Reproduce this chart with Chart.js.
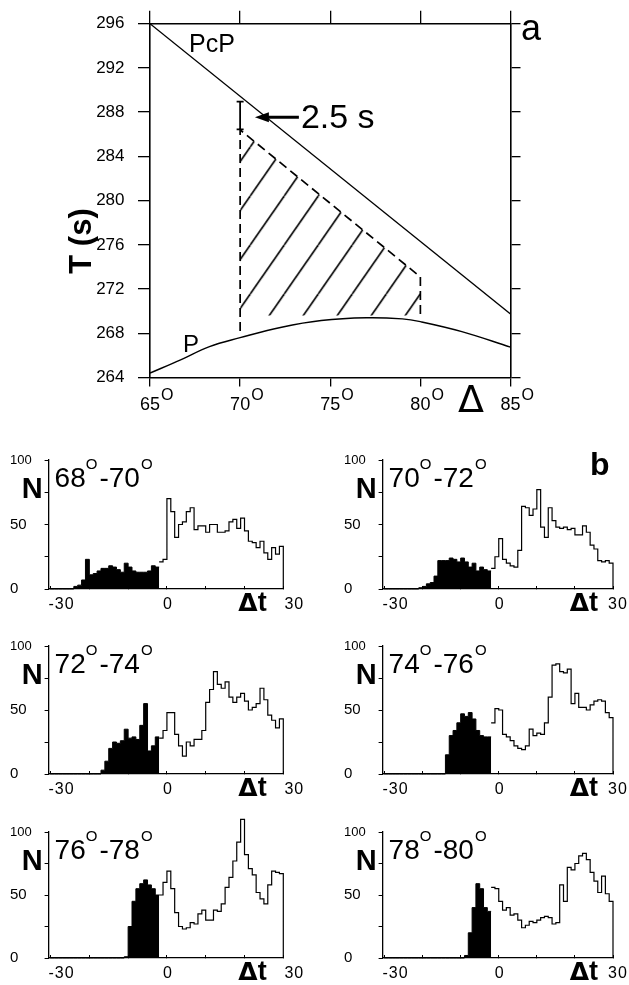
<!DOCTYPE html>
<html><head><meta charset="utf-8">
<script src="https://cdn.jsdelivr.net/npm/chart.js@4.4.1/dist/chart.umd.min.js"></script>
<style>
html,body{margin:0;padding:0;background:#fff;}
#wrap{position:relative;width:629px;height:985px;overflow:hidden;background:#fff;}
#wrap canvas{position:absolute;left:0;top:0;}
</style></head><body>
<div id="wrap">
<canvas id="ca" width="629" height="985"></canvas>
<canvas id="h1" width="629" height="985"></canvas>
<canvas id="h2" width="629" height="985"></canvas>
<canvas id="h3" width="629" height="985"></canvas>
<canvas id="h4" width="629" height="985"></canvas>
<canvas id="h5" width="629" height="985"></canvas>
<canvas id="h6" width="629" height="985"></canvas>
</div>
<script>
// ---------- Panel a data ----------
const deltaTicks = [65, 70, 75, 80, 85];
const deltaTickLabels = ['65', '70', '75', '80', '85'];
const pcpDelta = [65, 85];
const pcpTime = [296, 269.75];
const pDelta = [65, 66.7, 68.3, 70, 72.3, 74.5, 77, 79, 80, 82.3, 85];
const pTime = [264.4, 265.6, 266.8, 267.6, 268.55, 269.15, 269.4, 269.3, 269.05, 268.15, 266.75];
const hatchDelta = [70, 80];
const hatchTop = [286.4, 273.1];
const hatchBase = 269.6;
const dashDelta = [70, 70, 80, 80];
const dashTime = [268.2, 286.4, 273.1, 269.4];
const barDelta = [70, 70];
const barTime = [288.95, 286.45];
const arrowDelta = [73.26, 70.82];
const arrowTime = [287.53, 287.53];

// ---------- Panel b data (1 s bins, start of bin) ----------
const dtBinStart = [-30,-29,-28,-27,-26,-25,-24,-23,-22,-21,-20,-19,-18,-17,-16,-15,-14,-13,-12,-11,-10,-9,-8,-7,-6,-5,-4,-3,-2,-1,0,1,2,3,4,5,6,7,8,9,10,11,12,13,14,15,16,17,18,19,20,21,22,23,24,25,26,27,28,29];
const dtTickValues = [-30, 0, 30];
const dtTickLabels = ['-30', '0', '30'];
const filledUntil = -2;
const counts68_70 = [0,0,0,0,0,0,
  2,3,7,23,11,12,14,16,16,18,17,15,13,20,17,14,13,13,13,14,18,17,
  21,23,70,60,40,50,52,60,63,46,49,49,44,50,50,44,44,45,52,54,47,55,45,37,36,32,37,28,23,32,27,33];
const counts70_72 = [0,0,0,0,0,0,0,0,0,
  1,2,4,5,10,22,22,22,24,23,21,24,21,17,20,14,17,15,14,
  16,25,39,23,20,18,17,30,64,63,57,62,77,48,40,63,53,48,47,48,46,47,42,42,49,44,34,31,22,21,22,20];
const counts72_74 = [0,0,0,0,0,0,0,0,0,0,0,0,0,
  3,10,20,25,24,26,35,28,29,27,38,55,18,22,29,
  28,34,48,48,31,22,14,25,22,27,27,34,56,66,80,70,67,72,60,56,60,63,57,50,52,55,67,58,46,42,36,43];
const counts74_76 = [0,0,0,0,0,0,0,0,0,0,0,0,0,0,0,0,
  15,30,34,40,47,45,48,43,34,30,29,29,
  40,51,50,31,29,26,22,20,19,22,35,30,32,31,40,60,85,86,80,79,82,55,63,52,52,50,54,57,58,57,48,44];
const counts76_78 = [0,0,0,0,0,0,0,0,0,0,0,0,0,0,0,0,0,0,0,
  1,25,45,55,59,62,58,55,50,
  50,60,69,55,36,25,23,24,28,27,35,38,30,30,38,37,43,56,64,77,92,110,82,71,66,52,47,43,58,69,68,67];
const counts78_80 = [0,0,0,0,0,0,0,0,0,0,0,0,0,0,0,0,0,0,0,0,0,
  2,20,40,59,55,40,37,
  56,55,45,38,40,34,35,30,24,26,29,28,30,32,33,32,27,28,58,45,72,70,75,81,83,78,68,61,52,65,51,45];
const rangeFrom = ['68', '70', '72', '74', '76', '78'];
const rangeTo = ['70', '72', '74', '76', '78', '80'];

// ---------- common ----------
const FONT = "'Liberation Sans', Arial, sans-serif";
const DFONT = "'DejaVu Sans', sans-serif";
Chart.defaults.font.family = FONT;
Chart.defaults.color = '#000';
const W = 629, H = 985;

function pts(xs, ys) { return xs.map((x, i) => ({x: x, y: ys[i]})); }

function makeHatch() {
  const tw = 34, th = 49;
  const c = document.createElement('canvas'); c.width = tw; c.height = th;
  const g = c.getContext('2d');
  g.strokeStyle = '#000'; g.lineWidth = 1.6;
  for (const k of [-1, 0, 1]) { g.beginPath(); g.moveTo(k * tw, th); g.lineTo(k * tw + tw, 0); g.stroke(); }
  const p = g.createPattern(c, 'repeat');
  p.setTransform(new DOMMatrix().translateSelf(12.2, 0));
  return p;
}

// ---------- Panel a ----------
const A = {left: 150, right: 510.5, top: 19, bottom: 377.5};
const panelAText = {
  id: 'panelAText',
  afterDraw(chart) {
    const ctx = chart.ctx, x = chart.scales.x, y = chart.scales.y;
    ctx.save();
    ctx.fillStyle = '#000'; ctx.strokeStyle = '#000';
    ctx.textBaseline = 'alphabetic';
    deltaTicks.forEach((v, i) => {
      const px = x.getPixelForValue(v);
      ctx.font = '18px ' + FONT; ctx.textAlign = 'center';
      ctx.fillText(deltaTickLabels[i], px, 410);
      const w = ctx.measureText(deltaTickLabels[i]).width;
      ctx.font = '16px ' + FONT; ctx.textAlign = 'left';
      ctx.fillText('O', px + w / 2 + 1, 400);
    });
    ctx.font = '38px ' + DFONT; ctx.textAlign = 'center';
    ctx.fillText('Δ', 471, 412);
    // y title
    ctx.save();
    ctx.translate(82, 241); ctx.rotate(-Math.PI / 2);
    ctx.font = 'bold 31px ' + FONT; ctx.textAlign = 'center'; ctx.textBaseline = 'middle';
    ctx.fillText('T (s)', 0, 0);
    ctx.restore();
    ctx.textAlign = 'left';
    ctx.font = '25px ' + FONT; ctx.fillText('PcP', 189, 52);
    ctx.font = '24px ' + FONT; ctx.fillText('P', 183, 352);
    ctx.font = '36px ' + FONT; ctx.fillText('a', 521, 40);
    // arrow + label
    const ax1 = x.getPixelForValue(arrowDelta[0]), ax2 = x.getPixelForValue(arrowDelta[1]);
    const ay = y.getPixelForValue(arrowTime[0]);
    ctx.lineWidth = 3;
    ctx.beginPath(); ctx.moveTo(ax1, ay); ctx.lineTo(ax2 + 10, ay); ctx.stroke();
    ctx.beginPath(); ctx.moveTo(ax2, ay); ctx.lineTo(ax2 + 14, ay - 5); ctx.lineTo(ax2 + 14, ay + 5); ctx.closePath(); ctx.fill();
    ctx.font = '34px ' + FONT;
    ctx.fillText('2.5 s', ax1 + 2, ay + 11);
    ctx.restore();
  }
};

new Chart(document.getElementById('ca'), {
  type: 'line',
  data: {datasets: [
    {data: pts(pcpDelta, pcpTime), borderColor: '#000', borderWidth: 1.4, pointRadius: 0},
    {data: pts(pDelta, pTime), borderColor: '#000', borderWidth: 1.4, pointRadius: 0, tension: 0.4},
    {data: pts(hatchDelta, hatchTop), borderWidth: 0, borderColor: 'rgba(0,0,0,0)', pointRadius: 0, fill: {value: hatchBase}, backgroundColor: makeHatch()},
    {data: pts(dashDelta, dashTime), borderColor: '#000', borderWidth: 1.7, borderDash: [9, 5], pointRadius: 0},
    {data: pts(barDelta, barTime), borderColor: '#000', borderWidth: 1.8, pointStyle: 'line', pointRadius: 3.5, pointBorderWidth: 1.8, pointBorderColor: '#000'}
  ]},
  options: {
    responsive: false, animation: false, events: [],
    layout: {padding: 0},
    plugins: {legend: {display: false}, tooltip: {enabled: false}},
    scales: {
      x: {type: 'linear', position: 'bottom', min: 65, max: 85,
        afterFit: s => { s.height = H - A.bottom; },
        ticks: {display: false, stepSize: 5},
        grid: {drawOnChartArea: false, tickLength: 9, color: '#000', lineWidth: 1.3},
        border: {color: '#000', width: 1.6}},
      xTop: {type: 'linear', position: 'top', min: 65, max: 85,
        afterFit: s => { s.height = A.top; },
        ticks: {display: false, stepSize: 5},
        grid: {drawOnChartArea: false, tickLength: 13, color: '#000', lineWidth: 1.3},
        border: {color: '#000', width: 1.6}},
      y: {type: 'linear', position: 'left', min: 264, max: 296,
        afterFit: s => { s.width = A.left; },
        ticks: {stepSize: 4, padding: 13.5, font: {size: 17, family: FONT}, color: '#000'},
        grid: {drawOnChartArea: false, tickLength: 12, color: '#000', lineWidth: 1.3},
        border: {color: '#000', width: 1.6}},
      yRight: {type: 'linear', position: 'right', min: 264, max: 296,
        afterFit: s => { s.width = W - A.right; },
        ticks: {display: false, stepSize: 4},
        grid: {drawOnChartArea: false, tickLength: 10, color: '#000', lineWidth: 1.3},
        border: {color: '#000', width: 1.6}}
    }
  },
  plugins: [panelAText]
});

// ---------- Panel b ----------
const cols = [{left: 48.6, right: 283.3, labelLeft: 10, off30: 11, offDt: 8},
              {left: 382.6, right: 613, labelLeft: 344, off30: 5, offDt: 9}];
const rows = [{top: 460, bottom: 589}, {top: 646, bottom: 774}, {top: 832, bottom: 958}];
const XH = 20;

function makeHist(id, counts, k) {
  const C = cols[k % 2], R = rows[Math.floor(k / 2)];
  const filled = [], open = [];
  dtBinStart.forEach((t, i) => {
    if (t < filledUntil) filled.push({x: t, y: counts[i]});
    else open.push({x: t, y: counts[i]});
  });
  const lastF = filled[filled.length - 1].y;
  filled.push({x: filledUntil, y: lastF});
  const lastO = open[open.length - 1].y;
  open.push({x: 30, y: lastO});
  open.push({x: 30, y: 0});

  const txt = {
    id: 'histText' + k,
    afterDraw(chart) {
      const ctx = chart.ctx, xs = chart.scales.x, ca = chart.chartArea;
      ctx.save();
      ctx.fillStyle = '#000'; ctx.strokeStyle = '#000'; ctx.textBaseline = 'alphabetic';
      // title
      let tx = ca.left + 6; const tb = ca.top + 27;
      ctx.textAlign = 'left';
      ctx.font = '28px ' + FONT; ctx.fillText(rangeFrom[k], tx, tb); tx += ctx.measureText(rangeFrom[k]).width;
      ctx.font = '15px ' + FONT; ctx.fillText('O', tx, tb - 18); tx += ctx.measureText('O').width + 2;
      ctx.font = '28px ' + FONT; ctx.fillText('-' + rangeTo[k], tx, tb); tx += ctx.measureText('-' + rangeTo[k]).width;
      ctx.font = '15px ' + FONT; ctx.fillText('O', tx + 1, tb - 18);
      // N
      ctx.font = 'bold 29px ' + FONT; ctx.textAlign = 'right';
      ctx.fillText('N', ca.left - 6, ca.top + 38);
      // x labels
      ctx.font = '16px ' + FONT; ctx.textAlign = 'center';
      try { ctx.letterSpacing = '1px'; } catch (e) {}
      dtTickValues.forEach((v, i) => {
        const off = v === 0 ? 1 : (v < 0 ? 11 : C.off30);
        ctx.fillText(dtTickLabels[i], xs.getPixelForValue(v) + off, ca.bottom + 20);
      });
      try { ctx.letterSpacing = '0px'; } catch (e) {}
      // Δt : outlined triangle + bold t
      const cx = xs.getPixelForValue(20) + C.offDt, by = ca.bottom + 22;
      ctx.font = 'bold 25px ' + DFONT; const wD = ctx.measureText('Δ').width;
      ctx.font = 'bold 27px ' + FONT; const wT = ctx.measureText('t').width;
      const x0 = cx - (wD + wT) / 2;
      ctx.textAlign = 'left';
      ctx.font = 'bold 25px ' + DFONT;
      ctx.fillText('Δ', x0, by);
      ctx.font = 'bold 27px ' + FONT;
      ctx.fillText('t', x0 + wD, by);
      if (k === 1) { ctx.font = 'bold 32px ' + FONT; ctx.textAlign = 'left'; ctx.fillText('b', 590, 475); }
      ctx.restore();
    }
  };

  new Chart(document.getElementById(id), {
    type: 'line',
    data: {datasets: [
      {data: filled, stepped: true, fill: 'origin', backgroundColor: '#000', borderColor: '#000', borderWidth: 1, pointRadius: 0, clip: false},
      {data: open, stepped: true, fill: false, borderColor: '#000', borderWidth: 1.2, pointRadius: 0, clip: false}
    ]},
    options: {
      responsive: false, animation: false, events: [],
      layout: {padding: {left: C.labelLeft, right: W - C.right, top: R.top, bottom: H - R.bottom - XH}},
      plugins: {legend: {display: false}, tooltip: {enabled: false}},
      scales: {
        x: {type: 'linear', min: -30.5, max: 30,
          afterFit: s => { s.height = XH; },
          ticks: {display: false, stepSize: 10, includeBounds: false},
          grid: {drawOnChartArea: false, tickLength: -3, color: '#000', lineWidth: 1},
          border: {color: '#000', width: 1.3}},
        y: {type: 'linear', min: 0, max: 100,
          afterFit: s => { s.width = C.left - C.labelLeft; },
          ticks: {stepSize: 25, crossAlign: 'far', color: '#000',
            callback: v => (v % 50 === 0 ? String(v) : ''),
            font: c => ({size: (c.tick && c.tick.value === 100) ? 13 : 15, family: FONT})},
          grid: {drawOnChartArea: false, tickLength: 4, color: '#000', lineWidth: 1},
          border: {color: '#000', width: 1.3}}
      }
    },
    plugins: [txt]
  });
}

makeHist('h1', counts68_70, 0);
makeHist('h2', counts70_72, 1);
makeHist('h3', counts72_74, 2);
makeHist('h4', counts74_76, 3);
makeHist('h5', counts76_78, 4);
makeHist('h6', counts78_80, 5);
</script>
</body></html>
